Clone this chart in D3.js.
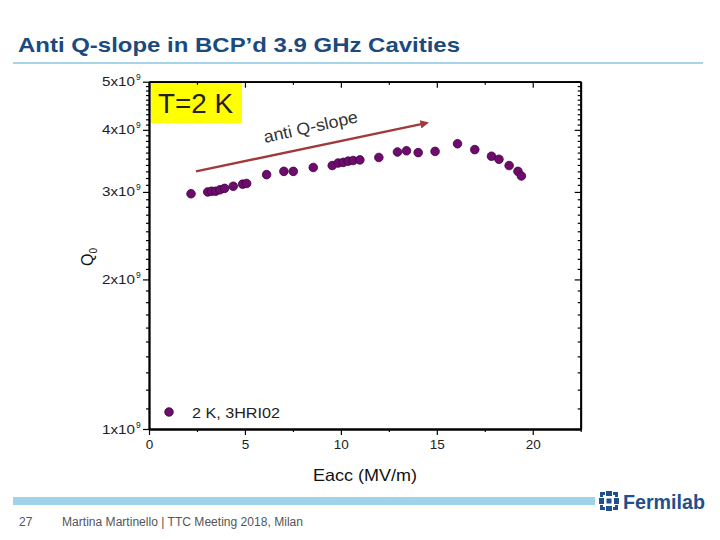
<!DOCTYPE html>
<html>
<head>
<meta charset="utf-8">
<script src="https://cdn.jsdelivr.net/npm/d3@7"></script>
<style>
  body { margin: 0; background: #fff; }
  svg text { font-family: "Liberation Sans", Arial, sans-serif; }
</style>
</head>
<body>
<svg id="svg" width="720" height="540"></svg>
<script>
// Eacc (MV/m) and Q0 for the 2 K run of 3HRI02
const eacc = [2.19, 3.06, 3.26, 3.47, 3.70, 3.94, 4.39, 4.88, 5.09, 6.13, 7.03, 7.52,
  8.56, 9.55, 9.86, 10.12, 10.38, 10.64, 10.99, 11.98, 12.95, 13.42, 14.03, 14.91,
  16.08, 16.98, 17.85, 18.24, 18.77, 19.23, 19.41];
const q0 = [2.975e9, 3.00e9, 3.01e9, 3.01e9, 3.03e9, 3.05e9, 3.08e9, 3.11e9, 3.12e9,
  3.25e9, 3.30e9, 3.30e9, 3.36e9, 3.39e9, 3.43e9, 3.44e9, 3.46e9, 3.47e9, 3.48e9,
  3.52e9, 3.61e9, 3.63e9, 3.60e9, 3.62e9, 3.75e9, 3.65e9, 3.54e9, 3.49e9, 3.39e9,
  3.30e9, 3.23e9];
const xTicks = [0, 5, 10, 15, 20];
const xMinor = [2.5, 7.5, 12.5, 17.5, 22.5];
const yTicks = [1e9, 2e9, 3e9, 4e9, 5e9];
const yTickLabels = ["1", "2", "3", "4", "5"];
const legendLabel = "2 K, 3HRI02";
// arrow of the "anti Q-slope" trend, in data units
const arrowFrom = [2.45, 3.30e9];
const arrowTo = [14.5, 4.13e9];

const data = eacc.map((e, i) => ({ e: e, q: q0[i] }));

const svg = d3.select("#svg");

const plotLeft = 149, plotRight = 580.7, plotTop = 81.7, plotBottom = 429;

const x = d3.scaleLinear().domain([0, 22.5]).range([plotLeft, plotRight]);
const y = d3.scaleLog().domain([1e9, 5e9]).range([plotBottom, plotTop]);

const yMinor = [];
for (let d = 1; d < 5; d++) {
  for (let k = 1; k < 10; k++) yMinor.push((d + k / 10) * 1e9);
}

// slide title
svg.append("text")
  .attr("x", 18).attr("y", 52)
  .attr("textLength", 442).attr("lengthAdjust", "spacingAndGlyphs")
  .style("font-size", "21px").style("font-weight", "bold")
  .attr("fill", "#1B4A7F")
  .text("Anti Q-slope in BCP’d 3.9 GHz Cavities");

svg.append("rect")
  .attr("x", 13).attr("y", 62).attr("width", 690).attr("height", 2)
  .attr("fill", "#A8D4EA");

// T=2 K box
svg.append("rect")
  .attr("x", 151).attr("y", 82).attr("width", 91).attr("height", 41)
  .attr("fill", "#FFFF00");
svg.append("text")
  .attr("x", 158).attr("y", 113)
  .attr("textLength", 75).attr("lengthAdjust", "spacingAndGlyphs")
  .style("font-size", "27px").attr("fill", "#222")
  .text("T=2 K");

// axes
const gx = svg.append("g").attr("transform", `translate(0,${plotBottom})`);
gx.call(d3.axisBottom(x).tickValues(xTicks).tickSize(6).tickSizeOuter(0).tickPadding(4));
svg.append("g").attr("transform", `translate(0,${plotBottom})`)
  .call(d3.axisBottom(x).tickValues(xMinor).tickSize(3).tickSizeOuter(0).tickFormat(""));

svg.append("g").attr("transform", `translate(0,${plotTop})`)
  .call(d3.axisBottom(x).tickValues(xTicks).tickSize(6).tickSizeOuter(0).tickFormat(""));
svg.append("g").attr("transform", `translate(0,${plotTop})`)
  .call(d3.axisBottom(x).tickValues(xMinor).tickSize(3).tickSizeOuter(0).tickFormat(""));

const gy = svg.append("g").attr("transform", `translate(${plotLeft},0)`);
gy.call(d3.axisLeft(y).tickValues(yTicks).tickSize(6).tickSizeOuter(0).tickFormat(""));
svg.append("g").attr("transform", `translate(${plotLeft},0)`)
  .call(d3.axisLeft(y).tickValues(yMinor).tickSize(3).tickSizeOuter(0).tickFormat(""));

svg.append("g").attr("transform", `translate(${plotRight},0)`)
  .call(d3.axisLeft(y).tickValues(yTicks).tickSize(6).tickSizeOuter(0).tickFormat(""));
svg.append("g").attr("transform", `translate(${plotRight},0)`)
  .call(d3.axisLeft(y).tickValues(yMinor).tickSize(3).tickSizeOuter(0).tickFormat(""));

svg.selectAll(".domain").attr("stroke", "#000").attr("stroke-width", 1.8);
svg.selectAll(".tick line").attr("stroke", "#000").attr("stroke-width", 1.2);

gx.selectAll(".tick text")
  .style("font-size", "13.5px").attr("fill", "#222")
  .attr("font-family", "Liberation Sans, Arial, sans-serif");

// y tick labels with superscript
yTicks.forEach((v, i) => {
  svg.append("text")
    .attr("x", 102).attr("y", y(v) + 4.5)
    .attr("textLength", 33).attr("lengthAdjust", "spacingAndGlyphs")
    .style("font-size", "13px").attr("fill", "#222")
    .text(yTickLabels[i] + "x10");
  svg.append("text")
    .attr("x", 136).attr("y", y(v) - 1.5)
    .style("font-size", "8.5px").attr("fill", "#222")
    .text("9");
});

// axis titles
svg.append("text")
  .attr("x", 365).attr("y", 481)
  .attr("text-anchor", "middle")
  .attr("textLength", 104).attr("lengthAdjust", "spacingAndGlyphs")
  .style("font-size", "16.5px").attr("fill", "#111")
  .text("Eacc (MV/m)");

const qt = svg.append("text")
  .attr("transform", "translate(93,257) rotate(-90)")
  .attr("text-anchor", "middle")
  .style("font-size", "16px").attr("fill", "#111");
qt.append("tspan").text("Q");
qt.append("tspan").attr("dy", 4).style("font-size", "10px").text("0");

// trend arrow
const defs = svg.append("defs");
defs.append("marker")
  .attr("id", "head")
  .attr("viewBox", "0 0 10 10")
  .attr("refX", 8).attr("refY", 5)
  .attr("markerWidth", 4).attr("markerHeight", 3.5)
  .attr("orient", "auto")
  .append("path").attr("d", "M0,0 L10,5 L0,10 z").attr("fill", "#A03A3C");

svg.append("line")
  .attr("x1", x(arrowFrom[0])).attr("y1", y(arrowFrom[1]))
  .attr("x2", x(arrowTo[0])).attr("y2", y(arrowTo[1]))
  .attr("stroke", "#A03A3C").attr("stroke-width", 2.4)
  .attr("marker-end", "url(#head)");

svg.append("text")
  .attr("transform", "translate(265,143) rotate(-12.5)")
  .attr("textLength", 96).attr("lengthAdjust", "spacingAndGlyphs")
  .style("font-size", "17px").attr("fill", "#333")
  .text("anti Q-slope");

// data points
svg.selectAll("circle.pt")
  .data(data)
  .join("circle")
  .attr("class", "pt")
  .attr("cx", d => x(d.e))
  .attr("cy", d => y(d.q))
  .attr("r", 4.3)
  .attr("fill", "#6E0C6E")
  .attr("stroke", "#3E003E")
  .attr("stroke-width", 0.8);

// legend
svg.append("circle")
  .attr("cx", 169).attr("cy", 412).attr("r", 4.3)
  .attr("fill", "#6E0C6E").attr("stroke", "#3E003E").attr("stroke-width", 0.8);
svg.append("text")
  .attr("x", 192).attr("y", 418)
  .attr("textLength", 88).attr("lengthAdjust", "spacingAndGlyphs")
  .style("font-size", "15px").attr("fill", "#222")
  .text(legendLabel);

// footer
svg.append("rect")
  .attr("x", 13).attr("y", 497).attr("width", 582).attr("height", 8)
  .attr("fill", "#9FD3EA");

svg.append("text")
  .attr("x", 19).attr("y", 526)
  .style("font-size", "12px").attr("fill", "#555")
  .text("27");
svg.append("text")
  .attr("x", 62).attr("y", 526)
  .attr("textLength", 241).attr("lengthAdjust", "spacingAndGlyphs")
  .style("font-size", "12.5px").attr("fill", "#555")
  .text("Martina Martinello | TTC Meeting 2018, Milan");

// Fermilab logo
const logo = svg.append("g").attr("transform", "translate(609,501)").attr("fill", "#1F4F8C");
logo.append("path")
  .attr("d", "M-3,-10 H3 V-5 H-3 Z M-3,5 H3 V10 H-3 Z M-10,-3 H-5 V3 H-10 Z M5,-3 H10 V3 H5 Z " +
    "M-9,-9 H-4 V-6 H-6 V-4 H-9 Z M9,-9 H4 V-6 H6 V-4 H9 Z M-9,9 H-4 V6 H-6 V4 H-9 Z M9,9 H4 V6 H6 V4 H9 Z " +
    "M-2.5,-2.5 H2.5 V2.5 H-2.5 Z");
svg.append("text")
  .attr("x", 623).attr("y", 509)
  .attr("textLength", 82).attr("lengthAdjust", "spacingAndGlyphs")
  .style("font-size", "21px").style("font-weight", "bold")
  .attr("fill", "#1F4F8C")
  .text("Fermilab");
</script>
</body>
</html>
